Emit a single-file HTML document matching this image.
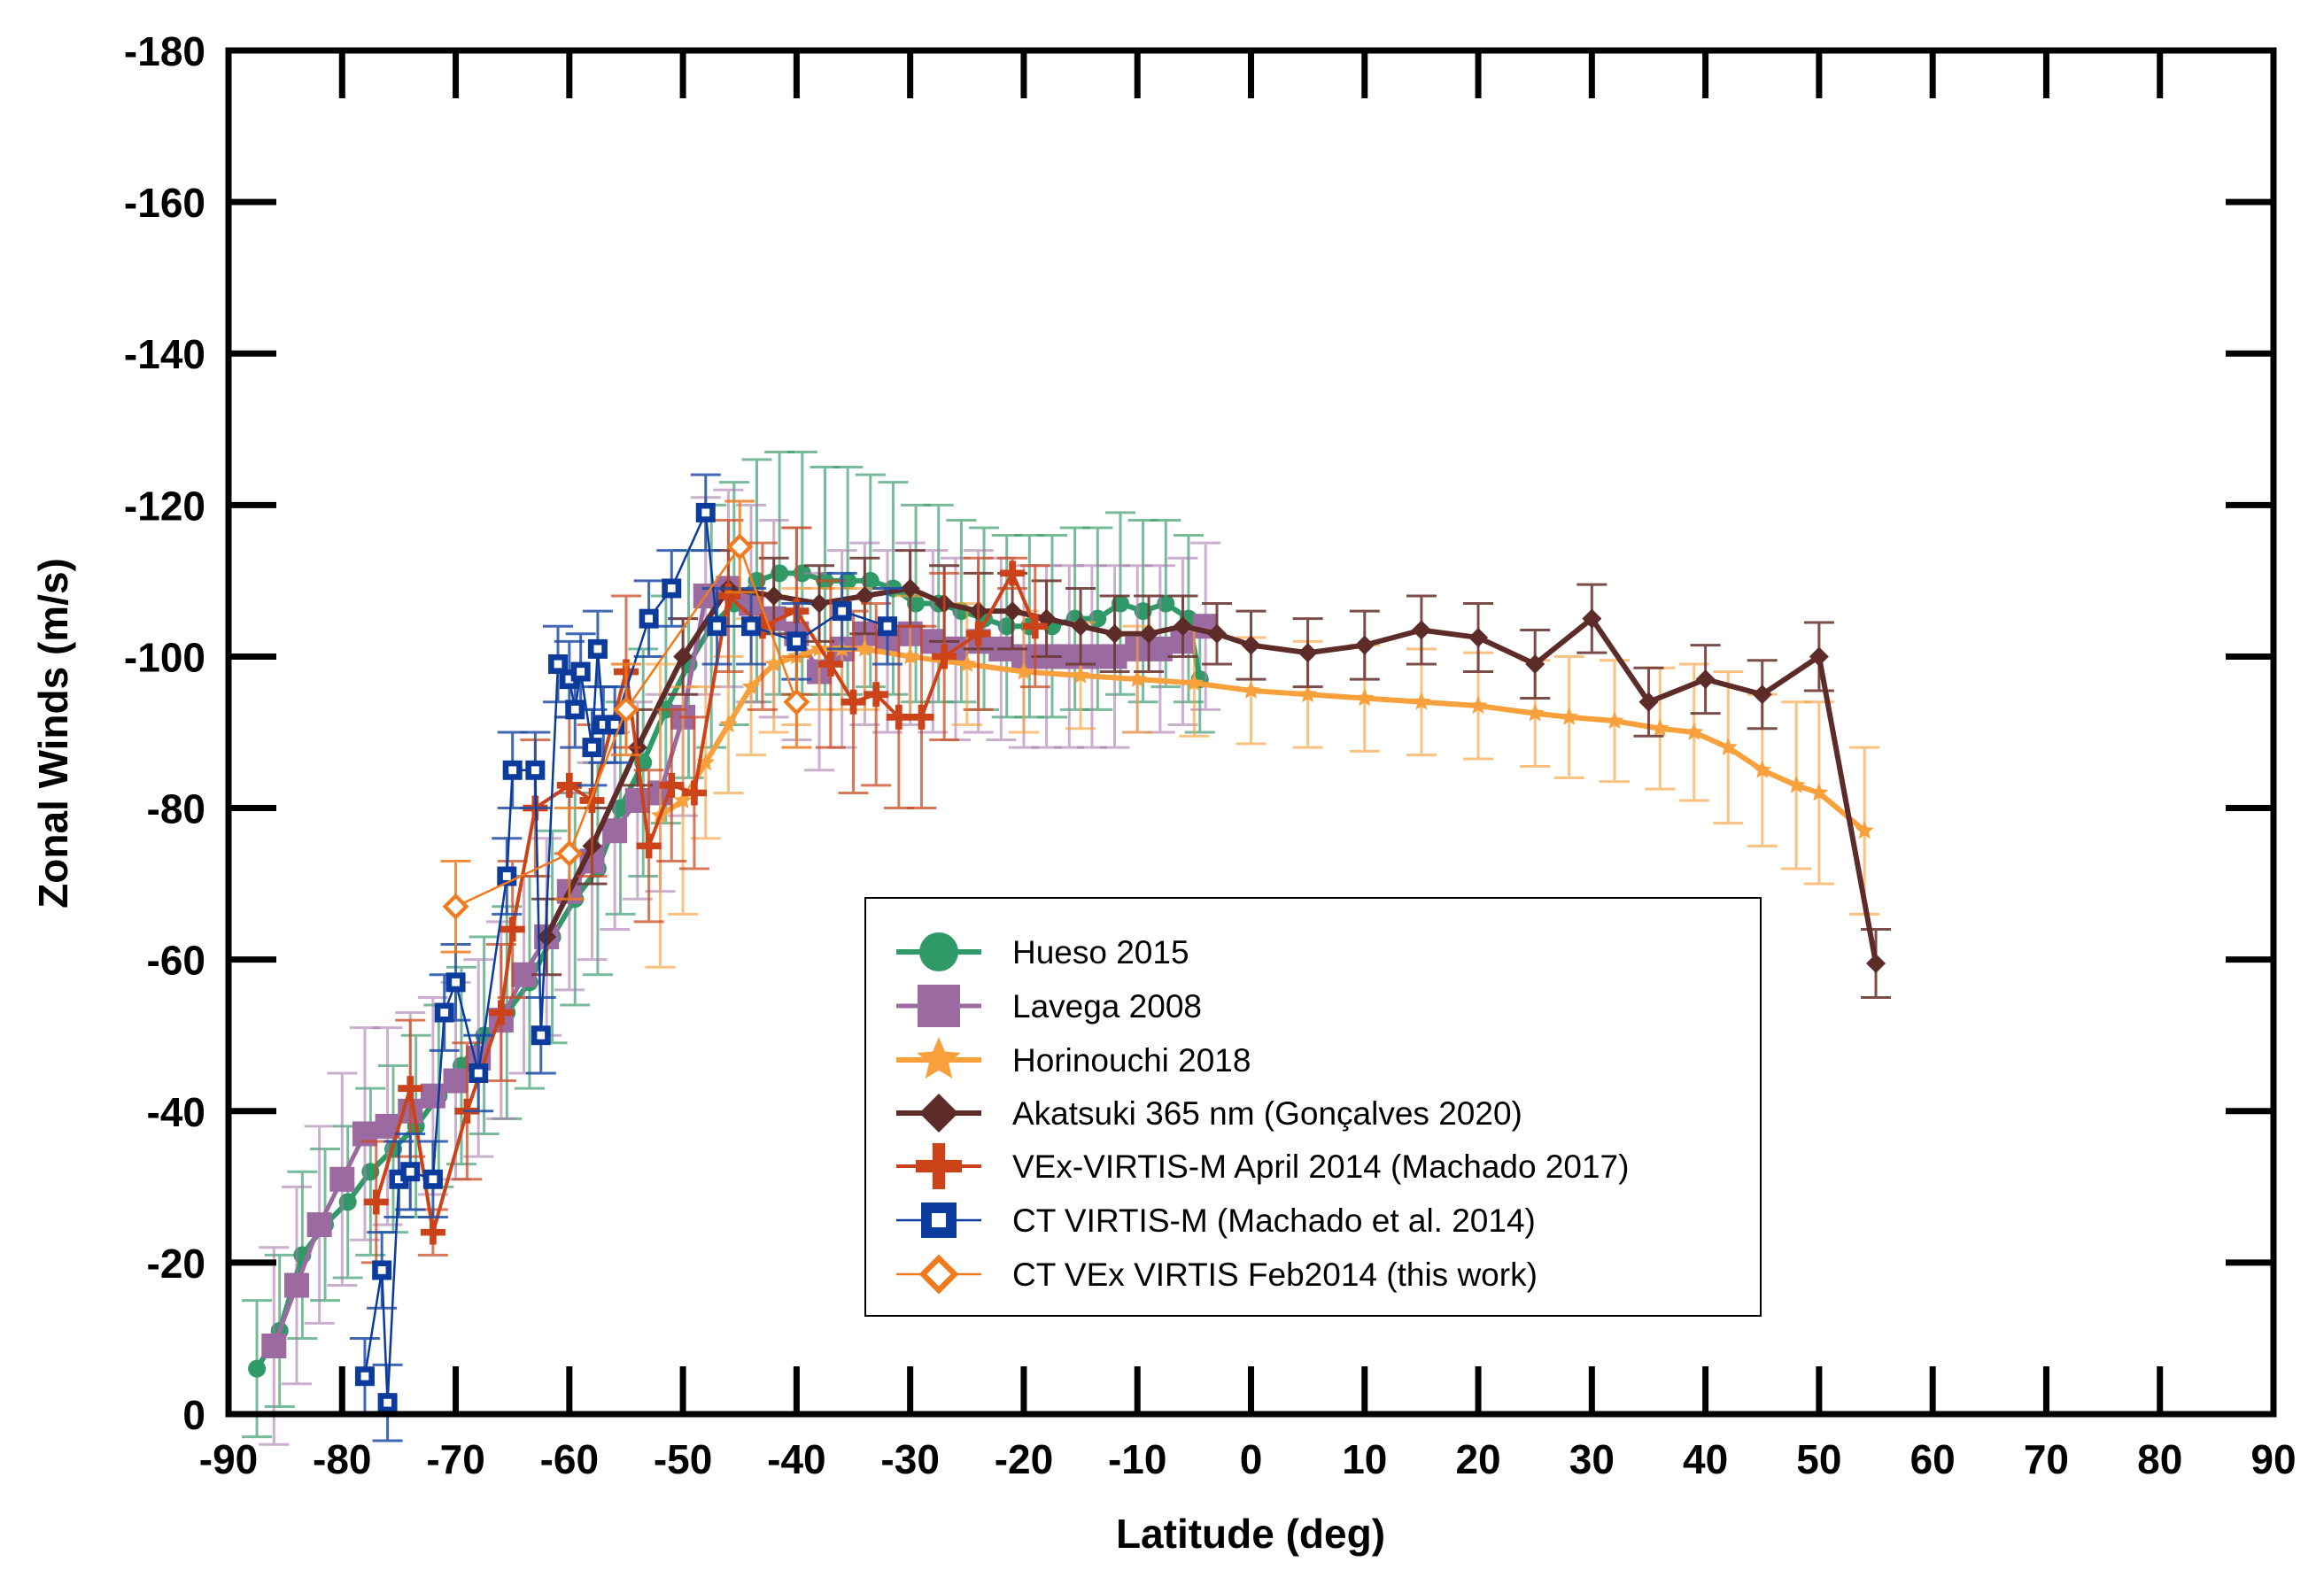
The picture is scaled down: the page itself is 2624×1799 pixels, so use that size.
<!DOCTYPE html>
<html><head><meta charset="utf-8"><style>
body{margin:0;background:#fff}
svg{display:block}
text{font-family:"Liberation Sans",sans-serif}
</style></head><body>
<svg id="chart" width="2624" height="1799" viewBox="0 0 2624 1799" xmlns="http://www.w3.org/2000/svg">
<rect width="2624" height="1799" fill="#fff"/>
<g id="series"></g>
<g id="axes"></g>
<text x="1412" y="1748" font-size="46" font-weight="bold" text-anchor="middle">Latitude (deg)</text>
<text transform="translate(76,828) rotate(-90)" font-size="46" font-weight="bold" text-anchor="middle">Zonal Winds (m/s)</text>
<g id="legend"></g>
</svg>
<script>
const xTicks=[-90,-80,-70,-60,-50,-40,-30,-20,-10,0,10,20,30,40,50,60,70,80,90];
const yTicks=[0,-20,-40,-60,-80,-100,-120,-140,-160,-180];

const huesoLat=[-87.5,-85.5,-83.5,-81.5,-79.5,-77.5,-75.5,-73.5,-71.5,-69.5,-67.5,-65.5,-63.5,-61.5,-59.5,-57.5,-55.5,-53.5,-51.5,-49.5,-47.5,-45.5,-43.5,-41.5,-39.5,-37.5,-35.5,-33.5,-31.5,-29.5,-27.5,-25.5,-23.5,-21.5,-19.5,-17.5,-15.5,-13.5,-11.5,-9.5,-7.5,-5.5,-4.5];
const huesoWind=[-6,-11,-21,-25,-28,-32,-35,-38,-42,-46,-50,-53,-57,-63,-68,-72,-80,-86,-93,-99,-104,-107,-110,-111,-111,-110,-110,-110,-109,-107,-107,-106,-105,-104,-104,-104,-105,-105,-107,-106,-107,-105,-97];
const huesoErr=[9,10,11,10,10,11,11,12,12,13,13,14,14,14,14,14,14,15,15,15,16,16,16,16,16,15,15,14,14,13,13,12,12,12,12,12,12,12,12,12,11,11,7];

const lavegaLat=[-86,-84,-82,-80,-78,-76,-74,-72,-70,-68,-66,-64,-62,-60,-58,-56,-54,-52,-50,-48,-46,-44,-42,-40,-38,-36,-34,-32,-30,-28,-26,-24,-22,-20,-18,-16,-14,-12,-10,-8,-6,-4];
const lavegaWind=[-9,-17,-25,-31,-37,-38,-40,-42,-44,-47,-52,-58,-63,-69,-73,-77,-81,-82,-92,-108,-109,-107,-105,-103,-98,-101,-103,-102,-103,-102,-101,-102,-101,-100,-100,-100,-100,-100,-101,-101,-102,-104];
const lavegaErr=[13,13,13,14,14,13,13,13,13,13,13,13,13,13,13,13,13,13,13,13,13,13,13,14,13,13,12,12,12,12,12,12,12,12,12,12,12,12,11,11,11,11];

const horiLat=[-52,-50,-48,-46,-44,-42,-40,-38,-36,-34,-30,-25,-20,-15,-10,-5,0,5,10,15,20,25,28,32,36,39,42,45,48,50,54];
const horiWind=[-79,-81,-86,-91,-96,-99,-100,-101,-101,-101,-100,-99,-98,-97.5,-97,-96.5,-95.5,-95,-94.5,-94,-93.5,-92.5,-92,-91.5,-90.5,-90,-88,-85,-83,-82,-77];
const horiErr=[20,15,10,9,9,9,9,8,8,8,8,8,8,7,7,7,7,7,7,7,7,7,8,8,8,9,10,10,11,12,11];

const akaLat=[-62,-58,-54,-50,-46,-42,-38,-34,-30,-27,-24,-21,-18,-15,-12,-9,-6,-3,0,5,10,15,20,25,30,35,40,45,50,55];
const akaWind=[-63,-75,-88,-100,-109,-108,-107,-108,-109,-107,-106,-106,-105,-104,-103,-103,-104,-103,-101.5,-100.5,-101.5,-103.5,-102.5,-99,-105,-94,-97,-95,-100,-59.5];
const akaErr=[5,5,5,5,5,5,5,5,5,5,5,5,5,5,5,5,4,4,4.5,4.5,4.5,4.5,4.5,4.5,4.5,4.5,4.5,4.5,4.5,4.5];

const vexLat=[-77,-74,-72,-69,-66,-65,-63,-60,-58,-55,-53,-51,-49,-46,-43,-40,-37,-35,-33,-31,-29,-27,-24,-21,-19];
const vexWind=[-28,-43,-24,-40,-53,-64,-80,-83,-81,-98,-75,-83,-82,-108,-104,-106,-99,-94,-95,-92,-92,-100,-103,-111,-104];
const vexErr=[8,9,3,9,9,9,9,9,10,10,10,10,10,10,11,11,11,12,12,12,12,11,10,2,8];

const ctLat=[-78,-76.5,-76,-75,-74,-72,-71,-70,-68,-65.5,-65,-63,-62.5,-61,-60,-59.5,-59,-58,-57.5,-57,-56,-53,-51,-48,-47,-44,-40,-36,-32];
const ctWind=[-5,-19,-1.5,-31,-32,-31,-53,-57,-45,-71,-85,-85,-50,-99,-97,-93,-98,-88,-101,-91,-91,-105,-109,-119,-104,-104,-102,-106,-104];
const ctErr=[5,5,5,5,5,5,5,5,5,5,5,5,5,5,5,5,5,5,5,5,5,5,5,5,5,5,5,5,5];

const ctfLat=[-70,-60,-55,-45,-40];
const ctfWind=[-67,-74,-93,-114.5,-94];
const ctfErr=[6,6,6,6,6];

const L=258,R=2567,T=57,B=1597;
const xs=v=>L+(v+90)/180*(R-L);
const ys=v=>B+v/180*(B-T);
const NS="http://www.w3.org/2000/svg";
function mk(tag,attrs,parent){const e=document.createElementNS(NS,tag);for(const k in attrs)e.setAttribute(k,attrs[k]);parent.appendChild(e);return e;}

const seriesG=document.getElementById('series');
const axesG=document.getElementById('axes');
const legendG=document.getElementById('legend');

function marker(g,type,x,y,color,s){
  let m;
  if(type==='circle'){m=mk('circle',{cx:x,cy:y,r:s,fill:color},g);}
  else if(type==='square'){m=mk('rect',{x:x-s,y:y-s,width:2*s,height:2*s,fill:color},g);}
  else if(type==='diamond'){m=mk('polygon',{points:`${x},${y-s} ${x+s},${y} ${x},${y+s} ${x-s},${y}`,fill:color},g);}
  else if(type==='plus'){m=mk('path',{d:`M${x-s},${y}H${x+s}M${x},${y-s}V${y+s}`,stroke:color,'stroke-width':s*0.55,fill:'none'},g);}
  else if(type==='opensquare'){m=mk('rect',{x:x-s*0.7,y:y-s*0.7,width:1.4*s,height:1.4*s,fill:'#fff',stroke:color,'stroke-width':s*0.6},g);}
  else if(type==='opendiamond'){m=mk('polygon',{points:`${x},${y-s} ${x+s},${y} ${x},${y+s} ${x-s},${y}`,fill:'#fff',stroke:color,'stroke-width':s*0.35},g);}
  else if(type==='star'){let p=[];for(let i=0;i<10;i++){const r=i%2?s*0.45:s;const a=-Math.PI/2+i*Math.PI/5;p.push((x+r*Math.cos(a)).toFixed(1)+','+(y+r*Math.sin(a)).toFixed(1));}m=mk('polygon',{points:p.join(' '),fill:color},g);}
  return m;
}

const seriesDefs=[
 {name:'hueso-2015',label:'Hueso 2015',lat:huesoLat,w:huesoWind,e:huesoErr,color:'#2f9a68',ecolor:'#3f9e70',type:'circle',s:10,lw:6,eop:0.7},
 {name:'lavega-2008',label:'Lavega 2008',lat:lavegaLat,w:lavegaWind,e:lavegaErr,color:'#9a6aa0',ecolor:'#a77aae',type:'square',s:14,lw:5,eop:0.6},
 {name:'horinouchi-2018',label:'Horinouchi 2018',lat:horiLat,w:horiWind,e:horiErr,color:'#f7a03c',ecolor:'#f7a03c',type:'star',s:11,lw:6,eop:0.65},
 {name:'akatsuki-365nm',label:'Akatsuki 365 nm (Gonçalves 2020)',lat:akaLat,w:akaWind,e:akaErr,color:'#5e2c28',ecolor:'#6e3a34',type:'diamond',s:11,lw:6,eop:0.9},
 {name:'vex-virtis-m-april-2014',label:'VEx-VIRTIS-M April 2014 (Machado 2017)',lat:vexLat,w:vexWind,e:vexErr,color:'#cc431a',ecolor:'#cc4a22',type:'plus',s:14,lw:4,eop:0.75},
 {name:'ct-virtis-m',label:'CT VIRTIS-M (Machado et al. 2014)',lat:ctLat,w:ctWind,e:ctErr,color:'#0b3b9c',ecolor:'#1f4ea8',type:'opensquare',s:11,lw:2.5,eop:0.85},
 {name:'ct-vex-virtis-feb2014',label:'CT VEx VIRTIS Feb2014 (this work)',lat:ctfLat,w:ctfWind,e:ctfErr,color:'#f07a1c',ecolor:'#f07a1c',type:'opendiamond',s:12,lw:2.5,eop:0.85}
];

seriesDefs.forEach(sd=>{
  const g=mk('g',{},seriesG);
  
  
  sd.lat.forEach((la,i)=>{
    const x=xs(la),y1=ys(sd.w[i]-sd.e[i]),y2=ys(sd.w[i]+sd.e[i]);
    const eb=mk('path',{d:`M${x},${y1}V${y2}M${x-17},${y1}H${x+17}M${x-17},${y2}H${x+17}`,stroke:sd.ecolor,'stroke-width':3,'stroke-opacity':sd.eop,fill:'none'},g);
    
    
  });
  const ln=mk('polyline',{points:sd.lat.map((la,i)=>xs(la)+','+ys(sd.w[i])).join(' '),stroke:sd.color,'stroke-width':sd.lw,fill:'none'},g);
  
  
  sd.lat.forEach((la,i)=>{
    const m=marker(g,sd.type,xs(la),ys(sd.w[i]),sd.color,sd.s);
    
    
  });
});

const frame=mk('rect',{x:L,y:T,width:R-L,height:B-T,fill:'none',stroke:'#000','stroke-width':7},axesG);


xTicks.forEach(v=>{
  const x=xs(v);
  const t=mk('path',{d:`M${x},${B}V${B-54}M${x},${T}V${T+54}`,stroke:'#000','stroke-width':7},axesG);
  
  
  const tx=mk('text',{x:x,y:B+67,'font-size':46,'font-weight':'bold','text-anchor':'middle'},axesG);
  tx.textContent=v;
  
  
});
yTicks.forEach(v=>{
  const y=ys(v);
  const t=mk('path',{d:`M${L},${y}H${L+54}M${R},${y}H${R-54}`,stroke:'#000','stroke-width':7},axesG);
  
  
  const tx=mk('text',{x:L-26,y:y+17,'font-size':46,'font-weight':'bold','text-anchor':'end'},axesG);
  tx.textContent=v;
  
  
});

const lb=mk('rect',{x:977,y:1014,width:1011,height:472,fill:'#fff',stroke:'#000','stroke-width':2},legendG);


const ly=[1075,1136,1197,1257,1317,1378,1439];
seriesDefs.forEach((sd,i)=>{
  const g=mk('g',{},legendG);
  
  
  const y=ly[i];
  mk('line',{x1:1012,y1:y,x2:1108,y2:y,stroke:sd.color,'stroke-width':sd.lw},g);
  const big={circle:22,square:24,star:26,diamond:22,plus:26,opensquare:20,opendiamond:18}[sd.type];
  marker(g,sd.type,1060,y,sd.color,big);
  const t=mk('text',{x:1143,y:y+13,'font-size':37},g);
  t.textContent=sd.label;
});
</script>
</body></html>
